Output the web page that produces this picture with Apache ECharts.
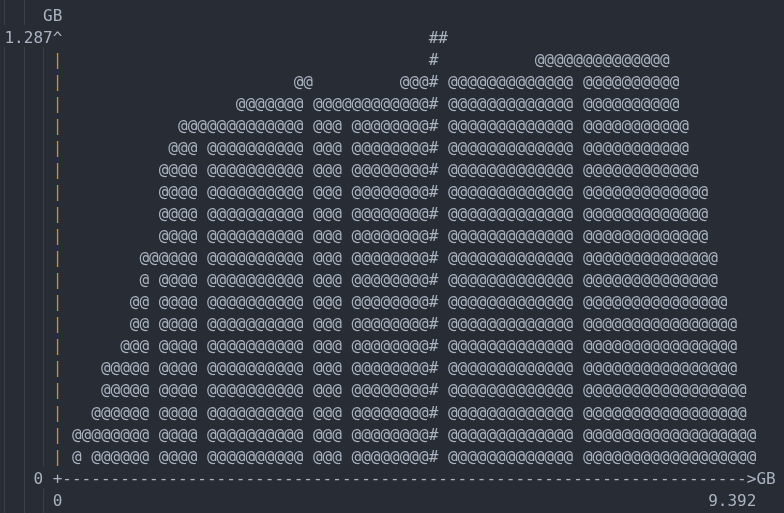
<!DOCTYPE html>
<html>
<head>
<meta charset="utf-8">
<style>
  html, body { margin: 0; padding: 0; background: #282c34; }
  #chart { width: 784px; height: 513px; }
</style>
<script src="https://cdn.jsdelivr.net/npm/echarts@6/dist/echarts.min.js"></script>
</head>
<body>
<div id="chart"></div>
<script>
// ms_print style heap graph, drawn on a monospace text grid

const yUnit = 'GB'
const yMax = 1.287            // top row of the graph
const yTickLabels = ['0', '1.287']
const xTickLabels = ['0', '9.392']
const graphRows = 20
const graphCols = 72

// text column of every snapshot
const snapCol = [
  2, 4, 5, 6, 7, 8, 9, 11, 12, 13, 14, 16, 17, 18, 19, 20, 21, 22, 23, 24, 25,
  27, 28, 29, 31, 32, 33, 34, 35, 36, 37, 38, 39,
  41, 42, 43, 44, 45, 46, 47, 48, 49, 50, 51, 52, 53,
  55, 56, 57, 58, 59, 60, 61, 62, 63, 64, 65, 66, 67, 68, 69, 70, 71, 72
]
// heap size at every snapshot (GB)
const snapMem = [
  0.129, 0.193, 0.322, 0.322, 0.386, 0.515, 0.644, 0.901, 0.965, 1.030, 1.030,
  1.030, 1.030, 1.030, 1.094, 1.094, 1.094, 1.094, 1.094, 1.094, 1.158,
  1.094, 1.094, 1.094, 1.094, 1.094, 1.094, 1.094, 1.094, 1.158, 1.158, 1.158, 1.287,
  1.158, 1.158, 1.158, 1.158, 1.158, 1.158, 1.158, 1.158, 1.158, 1.223, 1.223, 1.223, 1.223,
  1.223, 1.223, 1.223, 1.223, 1.223, 1.223, 1.223, 1.223, 1.223, 1.158, 1.030, 0.901,
  0.837, 0.644, 0.515, 0.450, 0.257, 0.129
]
const peakCol = 39

// layout of the terminal grid
const W = 784, H = 513
const CELL_W = 9.64, CELL_H = 22.05
const ORIGIN_X = 57.5, ORIGIN_Y = 477
const TEXT_DY = 2.5
const FONT_FAMILY = '"DejaVu Sans Mono", "Liberation Mono", monospace'
const FG = '#abb2bf', AXIS_FG = '#b8935f', GUIDE = '#3b4048', BG = '#282c34'
// editor indent guides: [col, from level, to level]
const GUIDE_SEGMENTS = [
  [-5.5, 23, 20.5], [-5.5, 19.5, -3],
  [-3.5, 23, 20.5], [-3.5, 19.5, -3],
  [-1.5, 19.5, 0.5], [-1.5, -0.5, -3]
]

const rowGB = yMax / graphRows
const levelOf = v => Math.round(v / rowGB)

// graph cells: full bar at each snapshot, a one-char cap right after it
const cells = []
const snapIdx = {}
snapCol.forEach((c, i) => { snapIdx[c] = i })
for (let c = 1; c <= graphCols; c++) {
  if (c in snapIdx) {
    const h = levelOf(snapMem[snapIdx[c]])
    const ch = c === peakCol ? '#' : '@'
    for (let k = 1; k <= h; k++) cells.push([c, k * rowGB, ch])
  } else if ((c - 1) in snapIdx) {
    const h = levelOf(snapMem[snapIdx[c - 1]])
    cells.push([c, h * rowGB, c - 1 === peakCol ? '#' : '@'])
  }
}

// axis characters
const axisText = []
const put = (str, col, lv, color) => {
  for (let j = 0; j < str.length; j++) {
    if (str[j] !== ' ') axisText.push([col + j, lv * rowGB, str[j], color])
  }
}
put(yUnit, 1 - yUnit.length, graphRows + 1, FG)
put(yTickLabels[1] + '^', -yTickLabels[1].length, graphRows, FG)
for (let k = 1; k < graphRows; k++) put('|', 0, k, AXIS_FG)
put(yTickLabels[0], -2, 0, FG)
put('+' + '-'.repeat(graphCols - 1) + '>' + yUnit, 0, 0, FG)
put(xTickLabels[0], 0, -1, FG)
put(xTickLabels[1], graphCols + 1 - xTickLabels[1].length, -1, FG)

const charItem = (src, color) => (params, api) => {
  const d = src[params.dataIndex]
  const p = api.coord([d[0], d[1]])
  return {
    type: 'text',
    x: p[0], y: p[1] + TEXT_DY,
    style: {
      text: d[2], fill: d[3] || color,
      fontFamily: FONT_FAMILY, fontSize: 16,
      align: 'center', verticalAlign: 'middle'
    }
  }
}

const chart = echarts.init(document.getElementById('chart'))
chart.setOption({
  backgroundColor: BG,
  animation: false,
  grid: {left: 0, right: 0, top: 0, bottom: 0},
  xAxis: {type: 'value', min: -ORIGIN_X / CELL_W, max: (W - ORIGIN_X) / CELL_W, show: false},
  yAxis: {type: 'value', min: -(H - ORIGIN_Y) / CELL_H * rowGB, max: ORIGIN_Y / CELL_H * rowGB, show: false},
  series: [
    {
      type: 'custom',
      silent: true,
      data: GUIDE_SEGMENTS.map(g => [g[0], g[1] * rowGB]),
      renderItem: (params, api) => {
        const g = GUIDE_SEGMENTS[params.dataIndex]
        const a = api.coord([g[0], g[1] * rowGB])
        const b = api.coord([g[0], g[2] * rowGB])
        const x = Math.round(a[0]) + 0.5
        return {type: 'line', shape: {x1: x, y1: a[1], x2: x, y2: b[1]}, style: {stroke: GUIDE, lineWidth: 1}}
      }
    },
    {
      type: 'custom',
      silent: true,
      data: axisText.map(d => [d[0], d[1]]),
      renderItem: charItem(axisText, FG)
    },
    {
      type: 'custom',
      silent: true,
      data: cells.map(d => [d[0], d[1]]),
      renderItem: charItem(cells, FG)
    }
  ]
})
</script>
</body>
</html>
